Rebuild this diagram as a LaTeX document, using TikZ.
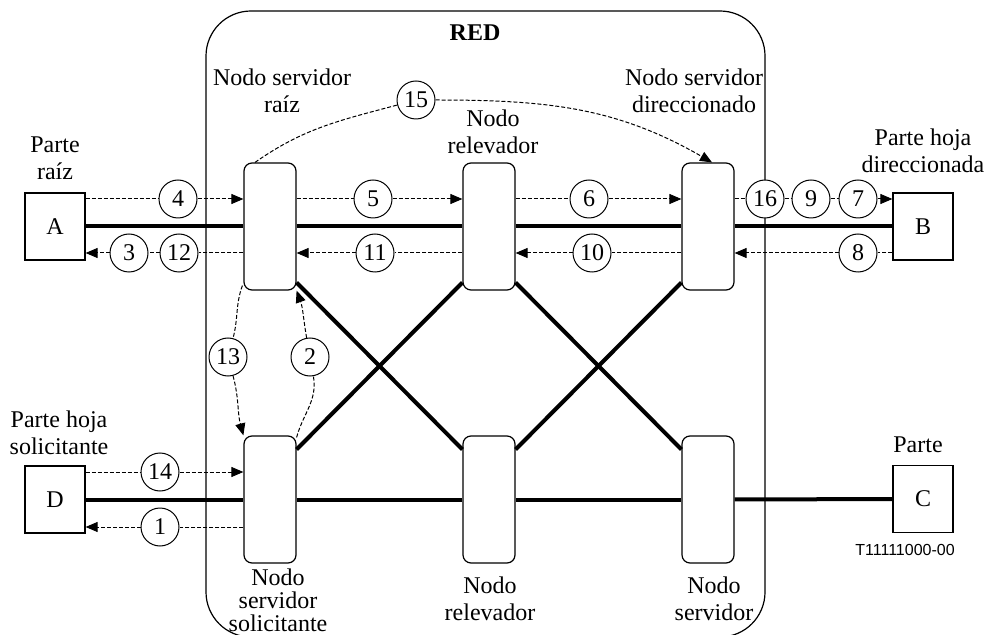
\documentclass[tikz,border=0pt,12pt]{standalone}
\usepackage{fontspec}
\setmainfont{Liberation Serif}
\newfontfamily\figsans{Liberation Sans}
\usetikzlibrary{positioning,arrows.meta,calc}
\newcommand\figfont{\fontsize{12}{13.5}\selectfont}

\begin{document}
\begin{tikzpicture}[x=0.5pt,y=0.5pt,
   font=\figfont,
   party/.style={draw,line width=0.6pt,minimum width=30pt,minimum height=33.5pt,inner sep=0pt},
   relay/.style={draw,line width=0.6pt,rounded corners=4pt,minimum width=26pt,
              minimum height=63.5pt,inner sep=0pt},
   num/.style={circle,draw,fill=white,line width=0.5pt,minimum size=19pt,inner sep=0pt},
   lbl/.style={align=center,inner sep=0pt},
   link/.style={line width=2pt},
   msg/.style={line width=0.5pt,dash pattern=on 2pt off 1pt},
   >={Triangle[length=6pt,width=5pt]},
]
\useasboundingbox (0,0) rectangle (988,-635);

% ----- network frame
\draw[line width=0.6pt,rounded corners=22.5pt] (206,-11) rectangle (765,-637);
\node[lbl,font=\figfont\bfseries] (red) at (475,-33) {RED};

% ----- parties
\node[party] (partA) at (55,-226.5)  {A};
\node[party] (partB) at (923,-226.5) {B};
\node[party] (partD) at (55,-499.5)  {D};
\node[party] (partC) at (923,-499)   {C};

% ----- network nodes
\node[relay] (srvroot) at (270,-226.5) {};
\node[relay] (rlytop)  at (489,-226.5) {};
\node[relay] (srvdir)  at (708,-226.5) {};
\node[relay] (srvreq)  at (270,-499.5) {};
\node[relay] (rlybot)  at (489,-499.5) {};
\node[relay] (srvbot)  at (708,-499.5) {};

% ----- labels
\node[lbl] (lblA)   at (55,-158)  {Parte\\raíz};
\node[lbl] (lblB)   at (923,-151) {Parte hoja\\direccionada};
\node[lbl] (lblD)   at (59,-433)  {Parte hoja\\solicitante};
\node[lbl] (lblC)   at (918,-445) {Parte};
\node[lbl] (lblsr)  at (282,-91)  {Nodo servidor\\raíz};
\node[lbl] (lblrt)  at (493,-132) {Nodo\\relevador};
\node[lbl] (lblsd)  at (694,-91)  {Nodo servidor\\direccionado};
\node[lbl,font=\fontsize{12}{11.5}\selectfont] (lblsq) at (278,-600)
   {Nodo\\servidor\\solicitante};
\node[lbl] (lblrb)  at (490,-599) {Nodo\\relevador};
\node[lbl] (lblsb)  at (714,-599) {Nodo\\servidor};
\node[lbl,font=\figsans\fontsize{8}{9}\selectfont] (tag) at (905,-550) {T11111000-00};

% ----- physical links
\draw[link] (partA) -- (srvroot);
\draw[link] (srvroot) -- (rlytop);
\draw[link] (rlytop) -- (srvdir);
\draw[link] (srvdir) -- (partB);
\draw[link] (partD) -- (srvreq);
\draw[link] (srvreq) -- (rlybot);
\draw[link] (rlybot) -- (srvbot);
\draw[link] (srvbot) -- (partC);
\draw[link] ([yshift=4pt]srvroot.south east) -- ([yshift=-7pt]rlybot.north west);
\draw[link] ([yshift=-7pt]srvreq.north east) -- ([yshift=4pt]rlytop.south west);
\draw[link] ([yshift=4pt]rlytop.south east) -- ([yshift=-7pt]srvbot.north west);
\draw[link] ([yshift=-7pt]rlybot.north east) -- ([yshift=4pt]srvdir.south west);

% ----- message numbers
\node[num] (n4)  at (178,-199) {4};
\node[num] (n5)  at (373,-199) {5};
\node[num] (n6)  at (589,-199) {6};
\node[num] (n16) at (765,-199) {16};
\node[num] (n9)  at (811,-199) {9};
\node[num] (n7)  at (858,-199) {7};
\node[num] (n8)  at (858,-253) {8};
\node[num] (n10) at (592,-253) {10};
\node[num] (n11) at (375,-253) {11};
\node[num] (n12) at (179,-253) {12};
\node[num] (n3)  at (129,-253) {3};
\node[num] (n14) at (160,-472) {14};
\node[num] (n1)  at (160,-527) {1};
\node[num] (n13) at (228,-357) {13};
\node[num] (n2)  at (310,-357) {2};
\node[num] (n15) at (416,-100) {15};

% ----- messages, upper row
\draw[msg] (partA.east |- n4) -- (n4);
\draw[msg,->] (n4) -- (srvroot.west |- n4);
\draw[msg] (srvroot.east |- n5) -- (n5);
\draw[msg,->] (n5) -- (rlytop.west |- n5);
\draw[msg] (rlytop.east |- n6) -- (n6);
\draw[msg,->] (n6) -- (srvdir.west |- n6);
\draw[msg] (srvdir.east |- n16) -- (n16);
\draw[msg] (n16) -- (n9);
\draw[msg] (n9) -- (n7);
\draw[msg,->] (n7) -- (partB.west |- n7);

\draw[msg] (partB.west |- n8) -- (n8);
\draw[msg,->] (n8) -- (srvdir.east |- n8);
\draw[msg] (srvdir.west |- n10) -- (n10);
\draw[msg,->] (n10) -- (rlytop.east |- n10);
\draw[msg] (rlytop.west |- n11) -- (n11);
\draw[msg,->] (n11) -- (srvroot.east |- n11);
\draw[msg] (srvroot.west |- n12) -- (n12);
\draw[msg] (n12) -- (n3);
\draw[msg,->] (n3) -- (partA.east |- n3);

% ----- messages, lower row
\draw[msg] (partD.east |- n14) -- (n14);
\draw[msg,->] (n14) -- (srvreq.west |- n14);
\draw[msg] (srvreq.west |- n1) -- (n1);
\draw[msg,->] (n1) -- (partD.east |- n1);

% ----- curved messages
\draw[msg] ([xshift=-7.5pt]srvroot.north) to[out=35,in=195] (n15);
\draw[msg,->] (n15) to[out=0,in=150] ([xshift=2pt]srvdir.north);
\draw[msg] ([xshift=-0.5pt,yshift=2.5pt]srvroot.south west) to[out=-110,in=75] (n13);
\draw[msg,->] (n13) to[out=-75,in=105] (srvreq.north west);
\draw[msg] ([yshift=-1pt]srvreq.north east) to[out=75,in=-80] (n2);
\draw[msg,->] (n2) to[out=100,in=-70] (srvroot.south east);
\end{tikzpicture}
\end{document}
